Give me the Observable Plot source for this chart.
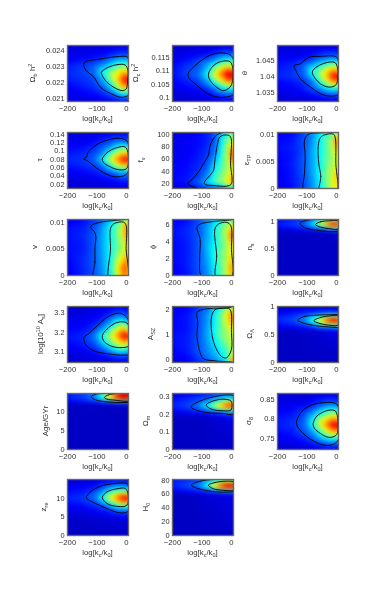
<!DOCTYPE html>
<html><head><meta charset="utf-8">
<style>
html,body{margin:0;padding:0;background:#fff;width:374px;height:610px;overflow:hidden}
#chart{position:relative;width:374px;height:610px;filter:blur(0.35px)}
#chart>div{position:absolute}
#chart svg{background:transparent;color:#333;max-width:none}
</style>
<script src="https://cdn.jsdelivr.net/npm/d3@7"></script>
<script src="https://cdn.jsdelivr.net/npm/@observablehq/plot@0.6"></script>
</head><body><div id="chart"></div>
<script>
const xDomain=[-200,7];
const xTicks=[-200,-100,0];
const xCols=[-200,-150,-110,-80,-55,-30,-12,0,7];
const xLabel=[["log[k",""],["c","sub"],["/k",""],["0","sub"],["]",""]];
const jetStops=[0,8,37.5,62.5,87.5,100];
const jetColors=["#0000c4","#0000ff","#00ffff","#ffff00","#ff0000","#800000"];

const obDomain=[0.0208,0.0243], obTicks=[0.021,0.022,0.023,0.024];
const obRows=[.0243,.0236,.0231,.0226,.0222,.0218,.0214,.0210,.0208];
const obGrid=[[3,3,3,3,4,4,4,4,4],[5,6,8,10,14,18,19,19,18],[10,14,18,24,32,42,46,45,42],[12,15,20,38,52,62,70,72,66],[11,13,16,28,50,68,82,90,88],[8,11,14,20,34,58,74,76,72],[6,8,10,14,20,34,45,46,42],[4,5,6,8,10,14,18,18,16],[3,3,3,4,4,5,6,6,6]];
const obOuter=[[-144,.02321],[-88,.02346],[-32,.0236],[2,.0236],[7,.02346],[9,.0215],[7,.0212],[-15,.02106],[-43,.02121],[-88,.02169],[-110,.02231],[-138,.02277]];
const obInner=[[-85,.02263],[-66,.0229],[-32,.0231],[-4,.02308],[5,.02273],[4,.0221],[-1,.02158],[-15,.02148],[-43,.02169],[-66,.022],[-82,.02242]];

const ocDomain=[0.0985,0.1197], ocTicks=[0.1,0.105,0.11,0.115];
const ocRows=[.1197,.1165,.114,.1115,.1089,.1064,.1039,.1014,.0985];
const ocGrid=[[2,2,3,3,3,3,3,3,3],[4,6,7,9,13,18,19,18,16],[6,10,16,20,26,36,42,40,36],[8,14,18,30,48,62,68,64,58],[9,16,22,40,64,80,92,95,90],[7,12,16,28,48,66,78,80,74],[5,8,11,16,26,38,44,44,40],[3,4,6,8,13,18,20,20,18],[2,2,2,3,3,4,4,4,4]];
const ocOuter=[[-147,.1081],[-145,.1096],[-123,.1121],[-95,.1146],[-61,.1165],[-28,.1169],[-5,.1162],[6,.1146],[8,.1014],[-28,.1001],[-61,.1005],[-95,.1026],[-123,.1052],[-143,.1071]];
const ocInner=[[-78,.1089],[-61,.1121],[-33,.1137],[-5,.1136],[4,.1115],[4,.1064],[-5,.1039],[-28,.1026],[-50,.1039],[-72,.1064]];

const thDomain=[1.0322,1.0497], thTicks=[1.035,1.04,1.045];
const thRows=[1.0497,1.046,1.044,1.0418,1.04,1.0385,1.0365,1.0345,1.0322];
const thGrid=[[3,3,3,3,3,3,3,3,3],[6,6,8,12,16,19,20,20,18],[9,12,18,26,34,42,46,44,40],[10,13,20,42,52,66,74,74,68],[12,14,18,36,54,72,86,92,90],[8,10,14,22,42,60,74,76,70],[6,8,11,18,26,38,42,42,38],[4,5,7,9,12,17,19,18,16],[2,2,2,3,3,3,4,4,4]];
const thOuter=[[-144,1.0434],[-122,1.044],[-94,1.046],[-54,1.0463],[-4,1.0463],[5,1.0455],[8,1.0346],[-21,1.0339],[-54,1.0346],[-88,1.0367],[-122,1.0393],[-138,1.0419]];
const thInner=[[-82,1.0414],[-66,1.0431],[-26,1.0445],[-4,1.0443],[4,1.0424],[4,1.0388],[-4,1.0372],[-26,1.0367],[-54,1.0377],[-71,1.0393]];

const tauDomain=[0.0095,0.145], tauTicks=[0.02,0.04,0.06,0.08,0.1,0.12,0.14];
const tauRows=[.145,.125,.11,.095,.08,.065,.05,.03,.0095];
const tauGrid=[[3,3,3,4,5,6,6,6,6],[6,6,8,12,15,19,18,17,15],[8,9,12,18,24,36,42,42,36],[10,12,16,24,42,60,68,68,62],[12,14,20,38,60,76,86,90,88],[10,12,15,22,38,58,66,68,62],[7,8,11,14,18,26,30,28,24],[4,4,5,6,8,10,12,11,10],[2,2,2,2,3,3,4,4,4]];
const tauOuter=[[-146,.0816],[-135,.0857],[-131,.0962],[-99,.1165],[-66,.1262],[-26,.1311],[-1,.1262],[7,.1165],[7,.0516],[-4,.0419],[-38,.0378],[-77,.0476],[-110,.0638],[-131,.076]];
const tauInner=[[-82,.08],[-66,.0962],[-32,.1084],[-4,.11],[5,.0962],[5,.0638],[-4,.0557],[-32,.0557],[-60,.0638],[-77,.0719]];

const fnuDomain=[11.8,103], fnuTicks=[20,40,60,80,100];
const fnuRows=[103,88,72,58,44,30,20,14,12];
const fnuGrid=[[5,6,8,11,18,30,42,48,42],[5,7,9,12,18,40,52,58,56],[6,7,10,14,22,44,54,80,70],[6,8,11,16,30,46,56,72,82],[7,9,13,20,38,48,54,58,60],[8,10,15,26,44,52,60,72,66],[7,10,20,34,44,52,62,74,64],[4,6,12,16,20,30,40,42,38],[3,4,6,8,12,18,24,26,24]];
const fnuOuter=[[-148,20.5],[-134,26],[-112,38.6],[-95,52],[-78,66],[-72,82.5],[-50,99],[-16,104],[10,104],[10,10],[-128,14]];
const fnuInner=[[-92,22],[-78,30.4],[-61,41],[-56,58],[-48,82.5],[-39,96],[-16,99],[-3,96],[-3,52],[0,19.5],[-16,15.6],[-61,16.7],[-89,18.4]];

const epsDomain=[0,0.0103], epsTicks=[0,0.005,0.01];
const epsRows=[.0103,.009,.0075,.006,.0045,.003,.0015,0];
const epsGrid=[[6,8,16,24,36,40,44,50,44],[8,10,17,26,38,48,56,86,62],[9,11,17,28,38,48,56,76,58],[8,10,18,28,38,48,54,60,56],[7,11,18,28,38,50,54,62,56],[6,10,18,28,40,52,56,72,58],[6,10,17,26,38,52,60,72,60],[5,9,16,25,36,50,56,66,58]];
const epsOuter=[[-108,-.001],[-108,.003],[-106,.006],[-108,.009],[-94,.01],[-66,.0102],[-4,.0103],[12,.0103],[12,-.001]];
const epsInner=[[-58,-.001],[-53,.0022],[-60,.0046],[-62,.0077],[-54,.0094],[-38,.0099],[-10,.01],[-4,.0093],[-2,.0046],[-1,-.001]];

const vDomain=[0,0.0105], vTicks=[0,0.005,0.01];
const vRows=[.0105,.009,.0075,.006,.0045,.003,.0015,0];
const vGrid=[[6,8,14,20,30,40,48,54,42],[9,11,17,27,38,50,60,84,60],[10,12,18,28,38,50,58,80,60],[9,11,18,28,38,48,54,68,56],[9,11,18,28,38,50,54,70,56],[8,12,18,27,38,56,64,78,58],[7,12,18,26,38,62,76,84,62],[6,11,17,25,36,58,74,78,58]];
const vOuter=[[-110,-.001],[-107,.0025],[-107,.005],[-105,.0078],[-122,.0091],[-116,.0095],[-88,.01],[-43,.0103],[2,.0105],[12,.0105],[12,-.001]];
const vInner=[[-57,-.001],[-54,.005],[-54,.0088],[-43,.0097],[-10,.01],[-1,.0094],[-1,.005],[2,-.001]];

const phiDomain=[0,6.64], phiTicks=[0,2,4,6];
const phiRows=[6.64,5.7,4.8,3.8,2.8,1.9,1,0];
const phiGrid=[[6,9,16,24,32,40,46,50,40],[9,12,18,28,38,50,56,66,60],[9,12,18,28,38,50,58,84,66],[8,11,18,30,38,48,54,70,60],[8,11,18,30,40,50,56,64,58],[8,11,18,28,40,50,56,72,58],[7,11,18,26,38,50,60,80,62],[6,10,17,25,36,48,56,74,60]];
const phiOuter=[[-100,-.1],[-108,1.94],[-106,4.3],[-117,5.7],[-106,6.1],[-61,6.4],[0,6.6],[12,6.7],[12,-.1]];
const phiInner=[[-52,-.1],[-50,2.3],[-56,5.5],[-44,6.1],[-16,6.3],[-2,5.9],[0,3.1],[0,-.1]];

const nsDomain=[0,1.03], nsTicks=[0,0.5,1];
const nsRows=[1.03,.99,.95,.9,.86,.82,.78,.5,0];
const nsGrid=[[5,8,10,14,20,30,36,36,32],[10,14,18,30,52,70,78,74,60],[12,15,20,38,62,82,90,92,84],[8,12,16,26,40,58,72,76,62],[5,7,10,14,20,28,38,42,34],[1,2,3,5,8,10,12,12,10],[0,0,0,0,0,0,1,1,1],[0,0,0,0,0,0,0,0,0],[0,0,0,0,0,0,0,0,0]];
const nsOuter=[[-124,.957],[-99,1.019],[-54,1.031],[4,1.031],[10,1.031],[10,.833],[-66,.833],[-105,.877]];
const nsInner=[[-71,.938],[-54,.988],[-26,1.006],[4,1.006],[10,.95],[4,.852],[-26,.864],[-54,.889]];

const asDomain=[3.045,3.334], asTicks=[3.1,3.2,3.3];
const asRows=[3.334,3.29,3.25,3.215,3.185,3.15,3.115,3.08,3.045];
const asGrid=[[2,2,2,3,4,5,6,6,5],[4,4,6,8,13,19,20,16,14],[6,7,10,16,26,42,44,38,30],[8,9,14,26,44,62,72,66,54],[10,12,22,42,56,74,88,92,84],[9,11,18,34,48,60,70,72,60],[6,8,13,20,30,42,46,40,36],[3,4,6,9,12,16,17,16,14],[2,2,2,2,3,3,4,4,4]];
const asOuter=[[-144,3.174],[-127,3.195],[-99,3.234],[-66,3.278],[-26,3.3],[-4,3.286],[7,3.26],[7,3.088],[-10,3.083],[-54,3.088],[-110,3.105],[-135,3.131],[-144,3.157]];
const asInner=[[-82,3.183],[-66,3.217],[-38,3.248],[-12,3.255],[5,3.243],[7,3.131],[-15,3.122],[-49,3.128],[-75,3.152]];

const aszDomain=[-0.1,2.12], aszTicks=[0,1,2];
const aszRows=[2.12,1.8,1.5,1.2,.9,.6,.3,0,-.1];
const aszGrid=[[5,8,14,20,32,42,48,52,46],[7,10,18,26,38,52,66,78,70],[8,10,17,26,38,52,60,74,66],[8,10,17,28,40,50,54,64,60],[9,11,18,28,38,50,54,58,56],[9,11,18,26,34,44,50,58,56],[7,10,18,24,30,38,46,54,56],[5,8,14,20,26,34,42,76,80],[3,5,10,14,18,22,32,66,78]];
const aszOuter=[[-117,1.88],[-100,1.99],[-61,2.05],[-5,2.08],[10,2.12],[10,-.14],[6,-.1],[-50,-.04],[-95,.05],[-106,.29],[-117,.95],[-114,1.48]];
const aszInner=[[-67,1.75],[-56,1.99],[-28,2.05],[-5,2.01],[0,1.09],[0,.42],[-16,.09],[-33,.13],[-56,.56],[-67,1.09]];

const olDomain=[0,1], olTicks=[0,0.5,1];
const olRows=[1,.9,.84,.79,.74,.68,.62,.56,0];
const olGrid=[[1,1,1,1,2,2,2,2,2],[5,7,10,12,14,14,13,12,10],[10,14,18,22,30,40,42,42,38],[12,15,22,38,56,76,84,84,72],[12,16,24,42,64,84,92,94,84],[8,12,16,26,42,52,58,60,54],[4,6,8,12,16,18,20,22,20],[0,0,1,1,2,3,4,4,4],[0,0,0,0,0,0,0,0,0]];
const olOuter=[[-131,.756],[-110,.821],[-66,.845],[4,.857],[10,.857],[10,.625],[4,.625],[-66,.655],[-110,.702]];
const olInner=[[-77,.744],[-54,.804],[-21,.833],[4,.833],[10,.75],[4,.667],[-26,.667],[-60,.702]];

const ageDomain=[0,14.74], ageTicks=[0,5,10];
const ageRows=[14.74,14.2,13.6,13.1,12.6,12.2,11.8,6,0];
const ageGrid=[[10,14,18,36,56,76,84,86,76],[11,15,22,44,66,86,92,94,84],[12,16,24,46,70,88,96,98,90],[9,13,18,34,50,66,76,78,68],[6,9,12,16,22,30,34,34,28],[2,3,4,6,8,12,14,14,12],[0,0,0,0,0,0,0,0,0],[0,0,0,0,0,0,0,0,0],[0,0,0,0,0,0,0,0,0]];
const ageOuter=[[-119,13.86],[-105,14.56],[-66,14.74],[7,14.74],[12,14.74],[12,12.37],[7,12.37],[-32,12.37],[-77,12.63],[-105,13.07]];
const ageInner=[[-75,13.68],[-60,14.4],[7,14.56],[12,13.7],[7,12.8],[-38,12.98],[-66,13.25]];

const omDomain=[0,0.317], omTicks=[0,0.1,0.2,0.3];
const omRows=[.317,.29,.27,.25,.23,.215,.2,.18,0];
const omGrid=[[4,6,8,10,13,16,18,18,16],[8,12,15,18,24,32,36,34,30],[10,14,18,26,38,54,62,60,52],[12,16,24,42,58,76,88,90,80],[9,13,18,28,42,54,62,60,50],[6,8,11,15,20,26,30,28,24],[2,3,4,6,8,12,16,18,16],[0,0,0,1,2,3,4,4,4],[0,0,0,0,0,0,0,0,0]];
const omOuter=[[-137,.243],[-117,.266],[-72,.294],[-16,.309],[6,.304],[12,.25],[6,.2],[-28,.204],[-84,.209],[-123,.225]];
const omInner=[[-86,.251],[-67,.272],[-28,.285],[-2,.275],[2,.253],[-2,.223],[-28,.219],[-67,.228]];

const s8Domain=[0.7204,0.8665], s8Ticks=[0.75,0.8,0.85];
const s8Rows=[.8665,.84,.82,.8,.785,.77,.75,.735,.7204];
const s8Grid=[[2,3,3,3,4,4,4,4,4],[4,5,6,10,14,18,19,18,16],[7,9,14,22,32,42,46,44,40],[10,12,18,36,54,66,74,72,66],[11,13,20,42,60,78,90,94,92],[9,11,18,28,46,64,74,76,72],[6,8,12,18,28,38,42,40,38],[4,5,7,10,13,18,19,18,16],[2,2,3,4,4,5,5,5,5]];
const s8Outer=[[-135,.795],[-116,.821],[-82,.837],[-38,.843],[-4,.841],[7,.83],[7,.747],[-10,.734],[-43,.732],[-88,.747],[-116,.765],[-133,.782]];
const s8Inner=[[-79,.788],[-66,.808],[-26,.823],[-4,.821],[4,.804],[4,.765],[-4,.756],[-26,.752],[-54,.762],[-75,.776]];

const zreDomain=[0,15], zreTicks=[0,5,10];
const zreRows=[15,13.5,12,11,10,9,7.8,6.5,4.5,0];
const zreGrid=[[2,3,3,4,5,6,6,6,6],[5,6,8,13,18,20,20,18,16],[8,10,14,24,36,44,46,44,38],[10,12,20,32,52,68,74,72,66],[12,14,20,42,62,78,90,92,88],[10,12,16,28,46,64,74,76,70],[7,8,12,16,24,38,42,42,38],[4,5,7,9,12,16,18,18,16],[1,1,2,2,3,3,4,4,4],[0,0,0,0,0,0,0,0,0]];
const zreOuter=[[-136,10.18],[-122,11.7],[-88,13.2],[-43,13.9],[2,13.9],[7,13],[7,6.6],[-21,6.07],[-66,7.2],[-105,8.6],[-131,9.64]];
const zreInner=[[-82,10.18],[-66,11.7],[-32,12.5],[-4,12.6],[5,11.25],[5,8.57],[-4,7.86],[-38,7.86],[-66,8.57]];

const h0Domain=[0,81], h0Ticks=[0,20,40,60,80];
const h0Rows=[81,78,75,72,69,66,63,60,0];
const h0Grid=[[8,11,14,20,26,34,38,38,34],[11,14,18,30,44,56,60,58,52],[12,16,22,38,60,78,84,86,74],[12,17,24,44,70,88,94,96,88],[10,14,18,34,58,76,84,86,76],[7,10,13,18,30,44,50,50,44],[4,6,8,12,16,18,20,20,18],[0,0,1,2,3,4,5,5,5],[0,0,0,0,0,0,0,0,0]];
const h0Outer=[[-136,72.8],[-106,78.6],[-61,81],[6,81],[12,81],[12,63.1],[6,63.1],[-50,63.1],[-106,67]];
const h0Inner=[[-78,72.8],[-56,76.6],[-16,78.6],[6,77.6],[12,72],[6,65.5],[-28,65.5],[-61,67.5]];

const colLeft=[67,172,277];
const rowTop=[45,132,219,306,393,479];
const panels=[
 {c:0,r:0,lx:35,label:[["Ω",""],["b","sub"],[" h",""],["2","sup"]],d:obDomain,t:obTicks,rows:obRows,g:obGrid,o:obOuter,i:obInner},
 {c:1,r:0,lx:138,label:[["Ω",""],["c","sub"],[" h",""],["2","sup"]],d:ocDomain,t:ocTicks,rows:ocRows,g:ocGrid,o:ocOuter,i:ocInner},
 {c:2,r:0,lx:247,label:[["θ",""]],d:thDomain,t:thTicks,rows:thRows,g:thGrid,o:thOuter,i:thInner},
 {c:0,r:1,lx:42,label:[["τ",""]],d:tauDomain,t:tauTicks,rows:tauRows,g:tauGrid,o:tauOuter,i:tauInner},
 {c:1,r:1,lx:143,label:[["f",""],["ν","sub"]],d:fnuDomain,t:fnuTicks,rows:fnuRows,g:fnuGrid,o:fnuOuter,i:fnuInner},
 {c:2,r:1,lx:249,label:[["ε",""],["TP","sub"]],d:epsDomain,t:epsTicks,rows:epsRows,g:epsGrid,o:epsOuter,i:epsInner},
 {c:0,r:2,lx:37,label:[["v",""]],d:vDomain,t:vTicks,rows:vRows,g:vGrid,o:vOuter,i:vInner},
 {c:1,r:2,lx:155,label:[["ϕ",""]],d:phiDomain,t:phiTicks,rows:phiRows,g:phiGrid,o:phiOuter,i:phiInner},
 {c:2,r:2,lx:252,label:[["n",""],["s","sub"]],d:nsDomain,t:nsTicks,rows:nsRows,g:nsGrid,o:nsOuter,i:nsInner},
 {c:0,r:3,lx:43,label:[["log[10",""],["10","sup"],[" A",""],["s","sub"],["]",""]],d:asDomain,t:asTicks,rows:asRows,g:asGrid,o:asOuter,i:asInner},
 {c:1,r:3,lx:153,label:[["A",""],["SZ","sub"]],d:aszDomain,t:aszTicks,rows:aszRows,g:aszGrid,o:aszOuter,i:aszInner},
 {c:2,r:3,lx:252,label:[["Ω",""],["Λ","sub"]],d:olDomain,t:olTicks,rows:olRows,g:olGrid,o:olOuter,i:olInner},
 {c:0,r:4,lx:48,label:[["Age/GYr",""]],d:ageDomain,t:ageTicks,rows:ageRows,g:ageGrid,o:ageOuter,i:ageInner},
 {c:1,r:4,lx:148,label:[["Ω",""],["m","sub"]],d:omDomain,t:omTicks,rows:omRows,g:omGrid,o:omOuter,i:omInner},
 {c:2,r:4,lx:251,label:[["σ",""],["8","sub"]],d:s8Domain,t:s8Ticks,rows:s8Rows,g:s8Grid,o:s8Outer,i:s8Inner},
 {c:0,r:5,lx:46,label:[["z",""],["re","sub"]],d:zreDomain,t:zreTicks,rows:zreRows,g:zreGrid,o:zreOuter,i:zreInner},
 {c:1,r:5,lx:148,label:[["H",""],["0","sub"]],d:h0Domain,t:h0Ticks,rows:h0Rows,g:h0Grid,o:h0Outer,i:h0Inner}
];

const FONT="'Liberation Sans',Arial,sans-serif";
const ML=52,MT=6,PW=61,PH=56,MB=28,MR=8;
const chart=document.getElementById("chart");

function addParts(text,parts){
  parts.forEach(([s,k],j)=>{
    const ts=text.append("tspan").text(s);
    if(k==="sub"){ts.attr("font-size",5.5).attr("dy",j?"2":0);}
    else if(k==="sup"){ts.attr("font-size",5.5).attr("dy",j?"-3":0);}
    else{
      const prev=j?parts[j-1][1]:"";
      ts.attr("dy",prev==="sub"?"-2":prev==="sup"?"3":0);
    }
  });
}

for(const p of panels){
  const pts=[];
  p.rows.forEach((y,ri)=>xCols.forEach((x,ci)=>pts.push({x,y,v:p.g[ri][ci]})));
  const svg=Plot.plot({
    width:ML+PW+MR,height:MT+PH+MB,
    marginLeft:ML,marginRight:MR,marginTop:MT,marginBottom:MB,
    style:{fontFamily:FONT,fontSize:"8px",background:"transparent"},
    x:{domain:xDomain,axis:null},
    y:{domain:p.d,axis:null},
    color:{type:"linear",domain:jetStops,range:jetColors,interpolate:"rgb",clamp:true},
    marks:[
      Plot.raster(pts,{x:"x",y:"y",fill:"v",interpolate:"barycentric",pixelSize:1,blur:1.5}),
      Plot.line(p.o,{x:d=>d[0],y:d=>d[1],curve:"catmull-rom-closed",stroke:"#000",strokeWidth:0.9,clip:true}),
      Plot.line(p.i,{x:d=>d[0],y:d=>d[1],curve:"catmull-rom-closed",stroke:"#000",strokeWidth:0.9,clip:true}),
      Plot.frame({stroke:"#666",strokeWidth:1.4}),
      Plot.axisX(xTicks,{anchor:"bottom",tickSize:0,tickPadding:4,label:null,fontSize:7.7,tickFormat:d=>d<0?"−"+(-d):String(d)}),
      Plot.axisY(p.t,{anchor:"left",tickSize:0,tickPadding:3,label:null,fontSize:7.4,tickFormat:d=>String(d)})
    ]
  });
  const sel=d3.select(svg);
  const xl=sel.append("text").attr("x",ML+PW/2).attr("y",MT+PH+20).attr("text-anchor","middle")
    .attr("font-size",7.8).attr("fill","#333").attr("font-family",FONT);
  addParts(xl,xLabel);
  const lx=p.lx-(colLeft[p.c]-ML), ly=MT+PH/2;
  const yl=sel.append("text").attr("transform",`translate(${lx},${ly}) rotate(-90)`).attr("text-anchor","middle")
    .attr("font-size",8).attr("fill","#333").attr("font-family",FONT);
  addParts(yl,p.label);
  const div=document.createElement("div");
  div.style.left=(colLeft[p.c]-ML)+"px";
  div.style.top=(rowTop[p.r]-MT)+"px";
  div.appendChild(svg);
  chart.appendChild(div);
}
</script></body></html>
